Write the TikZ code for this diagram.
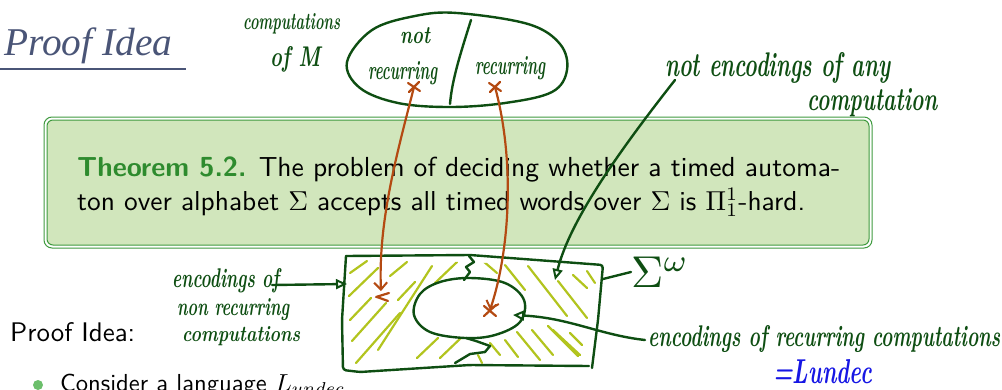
\documentclass[tikz,border=0pt]{standalone}
\usepackage{fontspec}
\usepackage{graphicx}
\usetikzlibrary{arrows.meta,calc}
\newfontfamily\titlefont{Liberation Serif}
\definecolor{ink}{HTML}{0E4E12}
\definecolor{rust}{HTML}{B44A12}
\definecolor{hatchc}{HTML}{B2C41E}
\definecolor{penblue}{HTML}{1616E4}
\definecolor{thmfill}{HTML}{D1E6BC}
\definecolor{thmline}{HTML}{3F9A3F}
\definecolor{thmhead}{HTML}{2E8B2E}
\definecolor{titlec}{HTML}{4A5577}
\definecolor{bulletc}{HTML}{6CBF6C}
\newcommand{\hw}[3]{\resizebox{#1pt}{#2pt}{\itshape\bfseries #3}}
\begin{document}
\begin{tikzpicture}[x=1pt,y=-1pt,
  pen/.style={draw=ink, line width=2.4pt, line cap=round, line join=round},
  rustpen/.style={draw=rust, line width=2.2pt, line cap=round, line join=round},
  hatch/.style={draw=hatchc, line width=2.2pt, line cap=round},
  handtext/.style={text=ink, inner sep=0pt, anchor=base west},
  tri/.style={-{Triangle[open,length=11pt,width=10pt,line width=2pt]}},
  barb/.style={-{Straight Barb[length=7pt,width=13pt,line width=2pt]}}]
\useasboundingbox (0,0) rectangle (1002,389);

% title
\node[anchor=base west, inner sep=0pt, text=titlec] (title) at (4,55)
  {\resizebox{168pt}{!}{\titlefont\itshape Proof Idea}};
\draw[titlec, line width=2pt] (0,69) -- (186,69);

% theorem box
\draw[thmline, line width=1pt, rounded corners=8pt] (44,117) rectangle (872,248);
\draw[thmline, line width=1pt, fill=thmfill, rounded corners=6pt] (47,120) rectangle (869,245);
\node[anchor=base west, inner sep=0pt] (thmA) at (77,176)
  {\resizebox{763pt}{!}{\sffamily\textcolor{thmhead}{\bfseries Theorem 5.2.} The problem of deciding whether a timed automa-}};
\node[anchor=base west, inner sep=0pt] (thmB) at (77,210)
  {\resizebox{728pt}{!}{\sffamily ton over alphabet $\Sigma$ accepts all timed words over $\Sigma$ is $\Pi^1_1$-hard.}};

% body text
\node[anchor=base west, inner sep=0pt] (pi) at (10,341)
  {\resizebox{125pt}{!}{\sffamily Proof Idea:}};
\fill[bulletc] (38,385) circle (5);
\node[anchor=base west, inner sep=0pt] (consider) at (60,391)
  {\resizebox{285pt}{!}{\sffamily Consider a language $L_{undec}$}};

% ellipse of computations
\draw[pen] plot[smooth cycle, tension=0.6] coordinates
  {(457,13) (528,24) (560,44) (567,70) (552,92) (505,103) (450,107) (398,103) (360,88) (347,62) (372,30) (415,16)};
\draw[pen] (471,20) .. controls (460,55) and (452,80) .. (450,104);
\node[handtext] (comp) at (243,29) {\hw{97}{16}{computations}};
\node[handtext] (ofM) at (270,66) {\hw{50}{20}{of M}};
\node[handtext] (notA) at (400,43) {\hw{30}{16}{not}};
\node[handtext] (recA) at (368,79) {\hw{69}{18}{recurring}};
\node[handtext] (recB) at (475,74) {\hw{70}{18}{recurring}};

% rectangle Sigma^omega with hatching
\begin{scope}
  \clip (346,258) -- (601,267) -- (590,366) -- (343,370) -- cycle;
  \foreach \a/\b/\c/\d in {
    350/273/367/261, 349/296/378/268, 390/276/407/262, 350/320/371/298,
    352/341/386/303, 356/363/400/313, 378/350/432/266, 398/300/415/282,
    435/283/457/262, 417/358/438/338, 440/358/463/336,
    483/261/497/273, 505/265/525/290, 528/266/567/316, 558/281/587/318,
    573/275/587/288, 587/271/595/283, 548/326/578/356, 570/333/582/345,
    505/340/518/357, 517/332/540/360, 532/330/553/355, 553/330/580/355,
    478/355/482/363, 490/343/500/355}
    \draw[hatch] (\a,\b) -- (\c,\d);
\end{scope}
\draw[pen, fill=white] plot[smooth cycle, tension=0.6] coordinates
  {(470,278) (505,283) (524,300) (520,322) (495,335) (465,338) (430,332) (414,315) (420,294) (440,282)};
\draw[pen] (469,256) -- (474,262) -- (466,267) -- (470,272) -- (464,280);
\draw[pen] (466,338) -- (476,341) -- (490,346) -- (485,352) -- (470,354) -- (455,363);
\draw[pen, rounded corners=3pt] (346,256) -- (470,255) -- (603,265) -- (598,320) -- (592,368);
\draw[pen, rounded corners=3pt] (589,366) -- (470,365) -- (360,372) -- (343,370) -- (342,320) -- (346,256);

% Sigma^omega label
\node[anchor=west, text=ink, inner sep=0pt] (sig) at (631,272) {\resizebox{58pt}{!}{$\Sigma^\omega$}};
\coordinate (rectR) at (603,279);
\draw[pen] (rectR) -- (sig.west);

% orange arrows and crosses
\coordinate (xA) at (414,87);
\coordinate (xB) at (495,87);
\coordinate (tA) at (381,291);
\coordinate (tB) at (490,310);
\draw[rustpen, barb] (xA) .. controls (398,150) and (378,220) .. (tA);
\draw[rustpen, barb] (xB) .. controls (515,160) and (510,250) .. (tB);
\foreach \p in {xA, xB} {
  \draw[rustpen] ($(\p)+(-6,-4)$) -- ($(\p)+(6,4)$);
  \draw[rustpen] ($(\p)+(-5,5)$) -- ($(\p)+(5,-5)$);
}
\draw[rustpen] (376,297) -- (389,293);
\draw[rustpen] (377,297) -- (388,301);
\draw[rustpen] (484,306) -- (496,316);
\draw[rustpen] (484,316) -- (496,305);

% not encodings annotation
\node[handtext] (notenc) at (665,76) {\hw{225}{24}{not encodings of any}};
\node[handtext] (compu) at (807,110) {\hw{130}{22}{computation}};
\coordinate (sC) at (675,80);
\coordinate (tC) at (555,280);
\draw[pen, tri] (sC) .. controls (620,150) and (570,220) .. (tC);

% encodings of non recurring computations
\node[handtext] (encA) at (172,287) {\hw{107}{19}{encodings of}};
\node[handtext] (encB) at (177,315) {\hw{112}{17}{non recurring}};
\node[handtext] (encC) at (182,341) {\hw{118}{15}{computations}};
\coordinate (sD) at (272,285);
\coordinate (tD) at (347,284);
\draw[pen, tri] (sD) -- (tD);

% encodings of recurring computations
\node[handtext] (encR) at (648,346) {\hw{352}{21}{encodings of recurring computations}};
\node[handtext, text=penblue] (lund) at (773,383) {\hw{99}{24}{=Lundec}};
\coordinate (sE) at (645,340);
\coordinate (tE) at (513,315);
\draw[pen, tri] (sE) .. controls (600,335) and (570,318) .. (tE);
\end{tikzpicture}
\end{document}
